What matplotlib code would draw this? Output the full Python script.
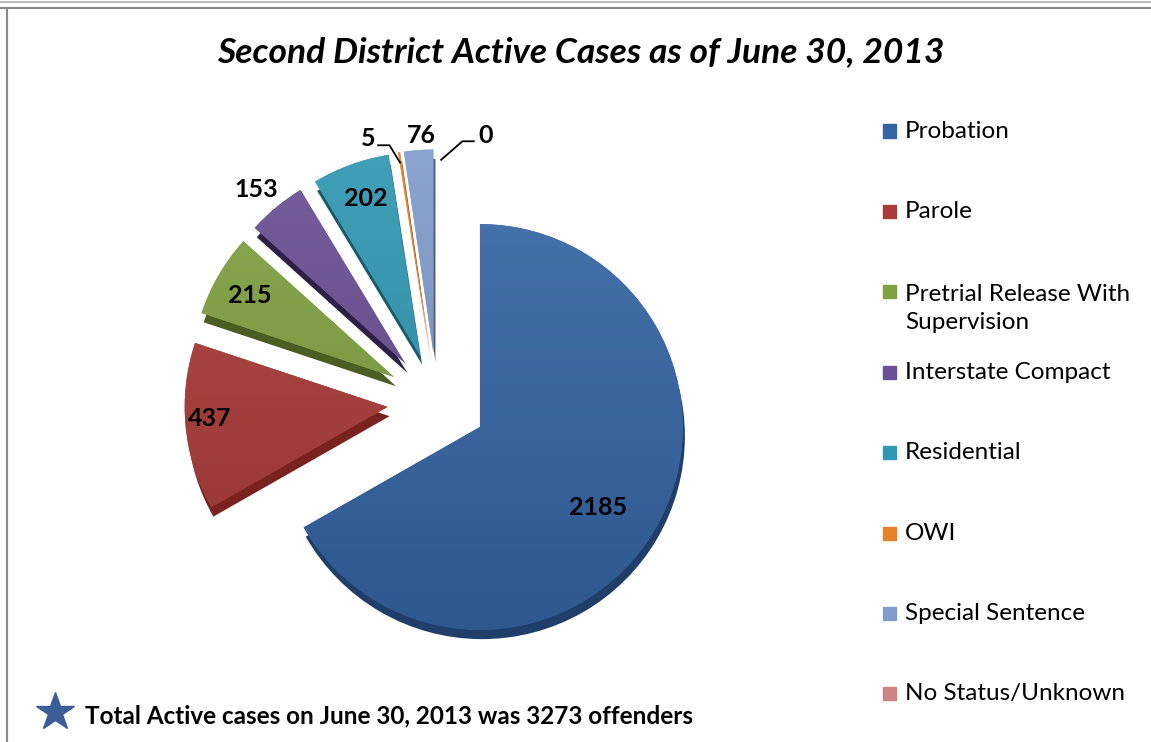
import matplotlib
matplotlib.use("Agg")
import numpy as np
import matplotlib.pyplot as plt
from matplotlib.lines import Line2D
from matplotlib.patches import Rectangle
from matplotlib.colors import LinearSegmentedColormap, to_rgb

categories = ["Probation", "Parole", "Pretrial Release With\nSupervision",
              "Interstate Compact", "Residential", "OWI", "Special Sentence",
              "No Status/Unknown"]
cases = [2185, 437, 215, 153, 202, 5, 76, 0]
title = "Second District Active Cases as of June 30, 2013"
report_date = "June 30, 2013"

# colours: top face and darker side face
top_colors = ["#3464A2", "#A93B38", "#80A141", "#6A5094", "#3098B2",
              "#E8822A", "#819DCC", "#CF8383"]
side_colors = ["#1F3F6A", "#7A2220", "#4A5E22", "#2D1F45", "#1A5A6A",
               "#8A4A10", "#4A5E80", "#8A4A4A"]

# label placement (radius from wedge centre, angle shift in degrees)
lab_r = [0.69, 0.86, 0.80, 1.11, 0.80, 1.08, 1.05, 1.075]
lab_da = [-4, -2, 0.6, 1, -1, 7.4, -1.1, -12.5]

FONT = "Lato"
W, H = 1151, 742
cx, cy, R = 437, 402, 207  # pixel centre / radius of the pie


def shade(c, f):
    r, g, b = to_rgb(c)
    if f > 0:
        return (r + (1 - r) * f, g + (1 - g) * f, b + (1 - b) * f)
    return (r * (1 + f), g * (1 + f), b * (1 + f))


fig = plt.figure(figsize=(W / 100, H / 100), dpi=100)
ax = fig.add_axes([0, 0, 1, 1])
explode = [0.24] * len(cases)

# side (depth) layer first, shifted down
ax.pie(cases, colors=side_colors, startangle=90, counterclock=False,
       explode=explode, radius=0.98, center=(0.01, -0.045),
       wedgeprops=dict(linewidth=0))
wedges, _ = ax.pie(cases, colors=top_colors, startangle=90, counterclock=False,
                   explode=explode, radius=0.98, center=(0, 0),
                   wedgeprops=dict(linewidth=0))

# soft vertical gradient on each top face
grad = np.linspace(1, 0, 64).reshape(-1, 1)
for w, col in zip(wedges, top_colors):
    cm = LinearSegmentedColormap.from_list("g", [shade(col, -0.12), shade(col, 0.08)])
    x0, y0 = w.center[0] - 1.0, w.center[1] - 1.0
    im = ax.imshow(grad, cmap=cm, extent=(x0, x0 + 2, y0, y0 + 2), aspect="auto",
                   origin="upper", zorder=w.get_zorder() + 0.1)
    im.set_clip_path(w)

ax.set_xlim(-cx / R, (W - cx) / R)
ax.set_ylim(-(H - cy) / R, cy / R)
ax.set_aspect("equal")
ax.axis("off")

for i, w in enumerate(wedges):
    mid = np.radians((w.theta1 + w.theta2) / 2)
    ccx, ccy = w.center
    a = mid + np.radians(lab_da[i])
    x = ccx + lab_r[i] * np.cos(a)
    y = ccy + lab_r[i] * np.sin(a)
    ax.text(x, y, str(cases[i]), ha="center", va="center", fontsize=18,
            fontweight="bold", family=FONT, color="black", zorder=5)
    # leader lines for the tiny slices
    if categories[i] == "OWI":
        ox = ccx + 0.95 * np.cos(mid)
        oy = ccy + 0.93 * np.sin(mid)
        ax.plot([x + 0.05, x + 0.105, ox], [y - 0.035, y - 0.035, oy],
                color="black", lw=1.3, zorder=5)
    if categories[i] == "No Status/Unknown":
        ox = ccx + 0.02
        oy = ccy + 0.93
        ax.plot([x - 0.055, x - 0.11, ox], [y - 0.03, y - 0.03, oy],
                color="black", lw=1.3, zorder=5)

fig.text(581 / W, 1 - 52 / H, title, ha="center", va="center", fontsize=25.5,
         fontweight="bold", fontstyle="italic", family=FONT)

# legend drawn as a column of squares and labels
for i, (lab, col) in enumerate(zip(categories, top_colors)):
    ypx = 131 + 80.4 * i
    fig.patches.append(Rectangle((883 / W, 1 - (ypx + 6.5) / H), 13 / W, 13 / H,
                                 transform=fig.transFigure, color=col))
    yt = ypx + 16.5 if "\n" in lab else ypx
    fig.text(905 / W, 1 - yt / H, lab, ha="left", va="center",
             fontsize=17.5, family=FONT, linespacing=1.42)

# footer note
fig.add_artist(Line2D([55 / W], [1 - 712 / H], marker="*", markersize=29,
                      color="#3A5F96", transform=fig.transFigure))
fig.text(85 / W, 1 - 716 / H,
         f"Total Active cases on {report_date} was {sum(cases)} offenders",
         ha="left", va="center", fontsize=17.5, fontweight="bold", family=FONT)

# frame lines
for (xs, ys, c, lw) in [([0, 1], [1 - 2 / H, 1 - 2 / H], "#BBBBBB", 1.5),
                        ([0, 1], [1 - 8 / H, 1 - 8 / H], "#888888", 1.5),
                        ([7 / W, 7 / W], [0, 1 - 8 / H], "#888888", 1.5)]:
    fig.add_artist(Line2D(xs, ys, color=c, lw=lw, transform=fig.transFigure))

fig.savefig("out.png", dpi=100)
